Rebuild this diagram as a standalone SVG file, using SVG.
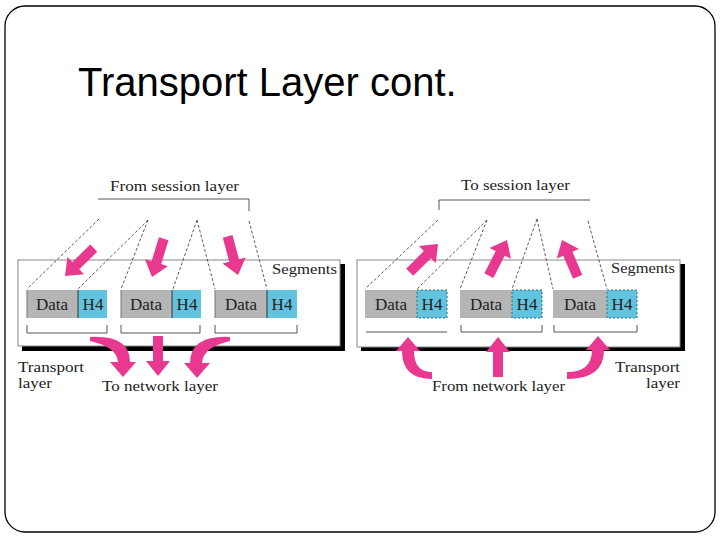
<svg xmlns="http://www.w3.org/2000/svg" width="720" height="540" viewBox="0 0 720 540">
<style>
  .lbl{font-family:"Liberation Serif","Times New Roman",serif;font-size:15.5px;fill:#222}
  .cell{font-family:"Liberation Serif","Times New Roman",serif;font-size:17px;fill:#222;text-anchor:middle}
  .dash{stroke:#333;stroke-width:0.8;stroke-dasharray:3 2;fill:none}
  .brk{stroke:#555;stroke-width:1;fill:none}
  .grey{fill:#b5b5b5}
  .blue{fill:#62c3de}
  .bluedash{fill:#62c3de;stroke:#2f6f80;stroke-width:1;stroke-dasharray:2 2}
  .arrow{fill:#e8388f}
</style>
<defs>
  <path id="arr" d="M0,0 L-15,-12 L-15,-5 L-40,-5 L-40,5 L-15,5 L-15,12 Z"/>
</defs>
<rect x="5" y="6" width="710" height="526" rx="20" ry="20" fill="#fff" stroke="#000" stroke-width="1.3"/>
<text x="78" y="96" font-family="'Liberation Sans',Arial,sans-serif" font-size="40" fill="#000">Transport Layer cont.</text>

<!-- left panel -->
<g id="left-panel">
  <rect x="22" y="264" width="323" height="87" fill="#000"/>
  <rect x="18" y="260" width="322" height="86" fill="#fff" stroke="#888" stroke-width="1"/>
  <text class="lbl" x="272" y="274" textLength="65" lengthAdjust="spacingAndGlyphs">Segments</text>
</g>
<g id="left-cell-1">
  <rect class="grey" x="27" y="290" width="51" height="28"/>
  <rect class="blue" x="78" y="290" width="29" height="28"/>
  <line x1="78" y1="290" x2="78" y2="318" stroke="#333" stroke-width="1"/>
  <line x1="27" y1="290" x2="27" y2="318" stroke="#777" stroke-width="1"/>
  <text class="cell" x="52" y="310">Data</text>
  <text class="cell" x="93" y="310">H4</text>
  <path class="brk" d="M27,325 V333 H107 V325"/>
</g>
<g id="left-cell-2">
  <rect class="grey" x="121" y="290" width="51" height="28"/>
  <rect class="blue" x="172" y="290" width="29" height="28"/>
  <line x1="172" y1="290" x2="172" y2="318" stroke="#333" stroke-width="1"/>
  <line x1="121" y1="290" x2="121" y2="318" stroke="#777" stroke-width="1"/>
  <text class="cell" x="146" y="310">Data</text>
  <text class="cell" x="187" y="310">H4</text>
  <path class="brk" d="M121,325 V333 H200 V325"/>
</g>
<g id="left-cell-3">
  <rect class="grey" x="215" y="290" width="52" height="28"/>
  <rect class="blue" x="267" y="290" width="30" height="28"/>
  <line x1="267" y1="290" x2="267" y2="318" stroke="#333" stroke-width="1"/>
  <line x1="215" y1="290" x2="215" y2="318" stroke="#777" stroke-width="1"/>
  <text class="cell" x="241" y="310">Data</text>
  <text class="cell" x="282" y="310">H4</text>
  <path class="brk" d="M215,325 V333 H297 V325"/>
</g>
<g id="left-labels">
  <text class="lbl" x="110" y="191" textLength="129" lengthAdjust="spacingAndGlyphs">From session layer</text>
  <text class="lbl" x="18" y="372" textLength="66" lengthAdjust="spacingAndGlyphs">Transport</text>
  <text class="lbl" x="18" y="388" textLength="34" lengthAdjust="spacingAndGlyphs">layer</text>
  <text class="lbl" x="102" y="391" textLength="116" lengthAdjust="spacingAndGlyphs">To network layer</text>
</g>

<!-- right panel -->
<g id="right-panel">
  <rect x="361" y="264" width="324" height="87" fill="#000"/>
  <rect x="357" y="260" width="323" height="87" fill="#fff" stroke="#888" stroke-width="1"/>
  <text class="lbl" x="611" y="273" textLength="64" lengthAdjust="spacingAndGlyphs">Segments</text>
</g>
<g id="right-cell-1">
  <rect class="grey" x="365" y="290" width="52" height="28"/>
  <rect class="bluedash" x="417" y="290" width="30" height="28"/>
  <text class="cell" x="391" y="310">Data</text>
  <text class="cell" x="432" y="310">H4</text>
  <path class="brk" d="M366,332 H447"/>
</g>
<g id="right-cell-2">
  <rect class="grey" x="460" y="290" width="52" height="28"/>
  <rect class="bluedash" x="512" y="290" width="30" height="28"/>
  <text class="cell" x="486" y="310">Data</text>
  <text class="cell" x="527" y="310">H4</text>
  <path class="brk" d="M461,325 V332 H542 V325"/>
</g>
<g id="right-cell-3">
  <rect class="grey" x="553" y="290" width="54" height="28"/>
  <rect class="bluedash" x="607" y="290" width="30" height="28"/>
  <text class="cell" x="580" y="310">Data</text>
  <text class="cell" x="622" y="310">H4</text>
  <path class="brk" d="M554,325 V332 H637 V325"/>
</g>
<g id="right-labels">
  <text class="lbl" x="461" y="190" textLength="109" lengthAdjust="spacingAndGlyphs">To session layer</text>
  <text class="lbl" x="432" y="391" textLength="133" lengthAdjust="spacingAndGlyphs">From network layer</text>
  <text class="lbl" x="615" y="372" textLength="65" lengthAdjust="spacingAndGlyphs">Transport</text>
  <text class="lbl" x="646" y="388" textLength="34" lengthAdjust="spacingAndGlyphs">layer</text>
</g>

<!-- connectors -->
<g id="connectors">
  <path class="brk" d="M98,199 H249 V211"/>
  <path class="brk" d="M439,210 V200 H590"/>
  <line class="dash" x1="99" y1="219" x2="27" y2="289"/>
  <line class="dash" x1="148" y1="220" x2="78" y2="289"/>
  <line class="dash" x1="148" y1="220" x2="121" y2="289"/>
  <line class="dash" x1="197" y1="220" x2="173" y2="289"/>
  <line class="dash" x1="197" y1="220" x2="215" y2="289"/>
  <line class="dash" x1="249" y1="221" x2="267" y2="289"/>
  <line class="dash" x1="438" y1="220" x2="365" y2="289"/>
  <line class="dash" x1="487" y1="220" x2="417" y2="289"/>
  <line class="dash" x1="487" y1="220" x2="460" y2="289"/>
  <line class="dash" x1="537" y1="219" x2="512" y2="289"/>
  <line class="dash" x1="537" y1="219" x2="553" y2="289"/>
  <line class="dash" x1="588" y1="221" x2="607" y2="289"/>
  <!-- pink arrows -->
  <use href="#arr" class="arrow" transform="translate(65,276) rotate(136)"/>
  <use href="#arr" class="arrow" transform="translate(152,277) rotate(107)"/>
  <use href="#arr" class="arrow" transform="translate(238,275) rotate(75)"/>
  <use href="#arr" class="arrow" transform="translate(438,244) rotate(-45)"/>
  <use href="#arr" class="arrow" transform="translate(507,240) rotate(-63)"/>
  <use href="#arr" class="arrow" transform="translate(562,240) rotate(-113)"/>
  <use href="#arr" class="arrow" transform="translate(158,376) rotate(90)"/>
  <use href="#arr" class="arrow" transform="translate(498,337) rotate(-90)"/>
  <path class="arrow" d="M90,337 Q130,335 130,362 L136,362 L123,377 L110,362 L118,362 Q117,347 90,341 Z"/>
  <path class="arrow" d="M230,337 Q190,335 190,363 L184,363 L197,378 L210,363 L202,363 Q203,347 230,341 Z"/>
  <path class="arrow" d="M402,351 Q402,379 432,379 L432,372 Q414,372 414,351 L420,351 L408,337 L396,351 Z"/>
  <path class="arrow" d="M604,350 Q604,379 567,379 L567,372 Q592,372 592,350 L586,350 L598,336 L610,350 Z"/>
</g>
</svg>
